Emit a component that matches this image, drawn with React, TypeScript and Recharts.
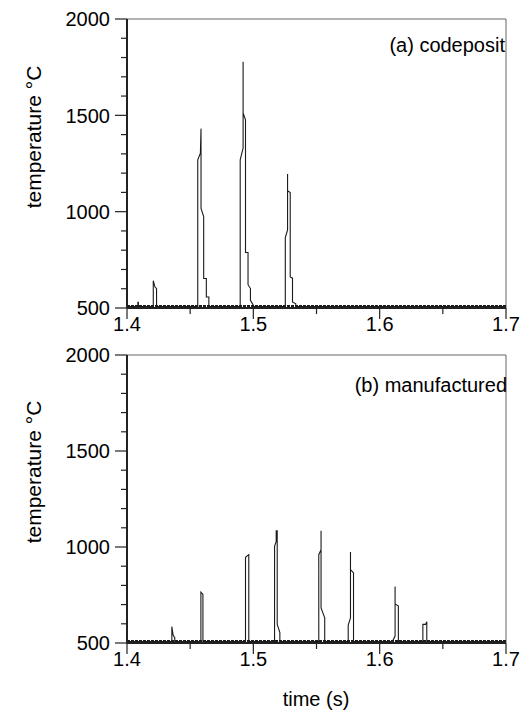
import React from 'react';
import { LineChart, Line, XAxis, YAxis, ReferenceArea, ReferenceLine } from 'recharts';

// (a) codeposit
const timeA = [
  1.4, 1.4086, 1.4086, 1.409, 1.409,
  1.4208, 1.4208, 1.4221, 1.4234, 1.4234,
  1.456, 1.456, 1.4581, 1.4586, 1.4586, 1.4607, 1.4607, 1.4628, 1.4628, 1.4648, 1.4648,
  1.4896, 1.4896, 1.4919, 1.4919, 1.4919, 1.4938, 1.4938, 1.4958, 1.4958, 1.4977, 1.4977, 1.5, 1.5,
  1.5253, 1.5253, 1.5271, 1.5271, 1.5271, 1.5292, 1.5292, 1.531, 1.531, 1.5336, 1.5336,
  1.7,
];
const tempA = [
  508, 508, 530, 530, 508,
  508, 642, 610, 600, 508,
  508, 1269, 1304, 1431, 1017, 974, 653, 653, 557, 557, 508,
  508, 1269, 1330, 1778, 1512, 1477, 788, 788, 621, 601, 540, 515, 508,
  508, 865, 905, 1196, 1109, 1099, 661, 655, 531, 522, 508,
  508,
];

// (b) manufactured
const timeB = [
  1.4,
  1.4355, 1.4355, 1.4365, 1.4378, 1.4378,
  1.4585, 1.4585, 1.4601, 1.4601,
  1.4938, 1.4938, 1.4964, 1.4964,
  1.5168, 1.5168, 1.5181, 1.5181, 1.5189, 1.5189, 1.521, 1.521,
  1.5518, 1.5518, 1.5536, 1.5536, 1.5536, 1.5565, 1.5565,
  1.5751, 1.5751, 1.5769, 1.5769, 1.5769, 1.5793, 1.5793,
  1.6101, 1.6122, 1.6122, 1.6122, 1.6148, 1.6148,
  1.6342, 1.6342, 1.6363, 1.6373, 1.6373,
  1.7,
];
const tempB = [
  508,
  508, 585, 541, 528, 508,
  508, 765, 753, 508,
  508, 946, 960, 508,
  508, 1003, 1029, 1085, 1085, 597, 554, 508,
  508, 960, 986, 1085, 683, 631, 508,
  508, 593, 631, 974, 882, 865, 508,
  508, 536, 794, 704, 692, 508,
  508, 597, 597, 611, 508,
  508,
];

const baseline = 508;

const xTicks = [1.4, 1.45, 1.5, 1.55, 1.6, 1.65, 1.7];
const xMajorLabels = ['1.4', '1.5', '1.6', '1.7'];
const yTicks = [500, 600, 700, 800, 900, 1000, 1100, 1200, 1300, 1400, 1500, 1600, 1700, 1800, 1900, 2000];
const yMajorLabels = ['500', '1000', '1500', '2000'];

const panelLabels = ['(a) codeposit', '(b) manufactured'];
const yTitle = 'temperature °C';
const xTitle = 'time (s)';

const FONT = 'Arial, "Liberation Sans", sans-serif';
const FS = 20;
const AX = '#222';

const toRows = (t: number[], v: number[]) => t.map((x, i) => ({ t: x, v: v[i] }));
const dataA = toRows(timeA, tempA);
const dataB = toRows(timeB, tempB);

const XTick = (props: any) => {
  const { x, y, payload } = props;
  const v = payload.value as number;
  const label = v.toFixed(1);
  const major = xMajorLabels.includes(label) && Math.abs(Number(label) - v) < 1e-6;
  return (
    <g>
      <line x1={x} x2={x} y1={y} y2={y + (major ? 11 : 6)} stroke={AX} strokeWidth={1.2} />
      {major && (
        <text x={x} y={y + 9} dy="0.71em" textAnchor="middle" fontSize={FS} fontFamily={FONT} fill="#000">
          {label}
        </text>
      )}
    </g>
  );
};

const YTick = (props: any) => {
  const { x, y, payload } = props;
  const v = payload.value as number;
  const label = String(v);
  const major = yMajorLabels.includes(label);
  return (
    <g>
      <line x1={x} x2={x - (major ? 12 : 6)} y1={y} y2={y} stroke={AX} strokeWidth={1.2} />
      {major && (
        <text x={x - 17} y={y} dy="0.36em" textAnchor="end" fontSize={FS} fontFamily={FONT} fill="#000">
          {label}
        </text>
      )}
    </g>
  );
};

const Panel = ({ data, height, top, bottom }: { data: any[]; height: number; top: number; bottom: number }) => (
  <LineChart width={531} height={height} data={data} margin={{ top, right: 25, left: 67, bottom }}>
    <ReferenceArea x1={1.4} x2={1.7} y1={500} y2={2000} fill="none" stroke="#666" strokeWidth={1} />
    <XAxis
      dataKey="t"
      type="number"
      domain={[1.4, 1.7]}
      ticks={xTicks}
      allowDataOverflow
      height={30}
      tickSize={0}
      tickMargin={0}
      tickLine={false}
      axisLine={{ stroke: AX, strokeWidth: 2 }}
      tick={(p: any) => <XTick {...p} />}
      interval={0}
    />
    <YAxis
      type="number"
      domain={[500, 2000]}
      ticks={yTicks}
      allowDataOverflow
      width={60}
      tickSize={0}
      tickMargin={0}
      tickLine={false}
      axisLine={{ stroke: AX, strokeWidth: 2 }}
      tick={(p: any) => <YTick {...p} />}
      interval={0}
    />
    <ReferenceLine y={baseline} stroke="#1a1a1a" strokeWidth={3} strokeDasharray="3 1" />
    <Line
      type="linear"
      dataKey="v"
      stroke="#1a1a1a"
      strokeWidth={1.1}
      dot={false}
      isAnimationActive={false}
    />
  </LineChart>
);

const textStyle: React.CSSProperties = {
  position: 'absolute',
  fontFamily: FONT,
  fontSize: FS,
  color: '#000',
  whiteSpace: 'nowrap',
  lineHeight: 1,
};

export default function App() {
  return (
    <div style={{ position: 'absolute', left: 0, top: 0, width: 531, height: 723, background: '#fff', overflow: 'hidden' }}>
      <div style={{ position: 'absolute', left: 0, top: 0 }}>
        <Panel data={dataA} height={345} top={19} bottom={7} />
      </div>
      <div style={{ position: 'absolute', left: 0, top: 345 }}>
        <Panel data={dataB} height={378} top={10} bottom={50} />
      </div>
      <div style={{ ...textStyle, right: 26, top: 35 }}>{panelLabels[0]}</div>
      <div style={{ ...textStyle, right: 24, top: 375 }}>{panelLabels[1]}</div>
      <div style={{ ...textStyle, fontSize: 21, left: 33, top: 137, transform: 'translate(-50%, -50%) rotate(-90deg)' }}>{yTitle}</div>
      <div style={{ ...textStyle, fontSize: 21, left: 33, top: 472, transform: 'translate(-50%, -50%) rotate(-90deg)' }}>{yTitle}</div>
      <div style={{ ...textStyle, left: 316, top: 699, transform: 'translate(-50%, -50%)' }}>{xTitle}</div>
    </div>
  );
}
